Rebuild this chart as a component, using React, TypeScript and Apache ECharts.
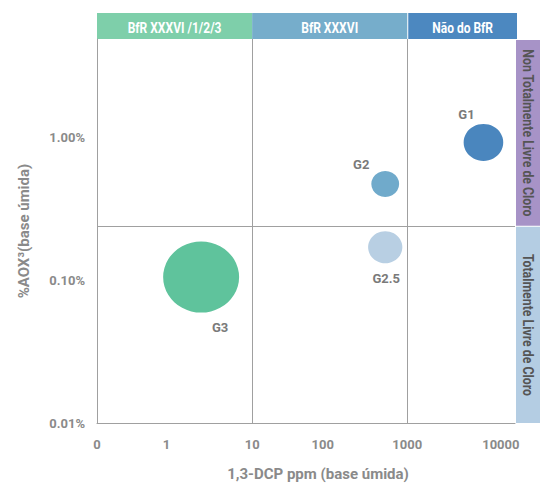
import React, { useEffect, useRef } from 'react';
import * as echarts from 'echarts';

// ---- data ----
const groupNames = ['G1', 'G2', 'G2.5', 'G3'];
const dcpPpm = [9600, 520, 520, 2.2];
const aoxPct = [0.92, 0.47, 0.17, 0.105];
const bubbleSize = [37, 26, 32, 71];
const bubbleColors = ['#4a86be', '#70aacb', '#b8cfe3', '#5fc39c'];
const labelOffsets = [[-17, -28], [-24, -20], [1, 31], [19, 50]];

const xTickValues = [0.1, 1, 10, 100, 1000, 10000];
const xTickLabels = ['0', '1', '10', '100', '1000', '10000'];
const xLabelShift = [0, -8, 0, -7, 0, 16];
const yTickValues = [0.01, 0.1, 1];
const yTickLabels = ['0.01%', '0.10%', '1.00%'];

const X_MIN = 0.1;
const X_MAX = 24500;
const Y_MIN = 0.01;
const Y_MAX = 4.87;

const xDividers = [10, 1000];
const yDividers = [0.24];

const headerLabels = ['BfR XXXVI /1/2/3', 'BfR XXXVI', 'Não do BfR'];
const headerBounds = [X_MIN, 10, 1000, X_MAX];
const headerColors = ['#7ecfaa', '#76adcb', '#4c88c0'];

const sideLabels = ['Non Totalmente Livre de Cloro', 'Totalmente Livre de Cloro'];
const sideBounds = [Y_MAX, 0.24, Y_MIN];
const sideColors = ['#a793c7', '#b4cde3'];

const FONT = "Roboto, 'Noto Sans', sans-serif";
const GREY = '#8a8a8a';

const GRID = { left: 97, right: 25, top: 39, bottom: 60 };

function findIdx(arr: number[], v: number) {
  for (let i = 0; i < arr.length; i++) {
    if (Math.abs(Math.log10(arr[i]) - Math.log10(v)) < 1e-6) return i;
  }
  return -1;
}

export default function App() {
  const ref = useRef<HTMLDivElement>(null);
  useEffect(() => {
    const chart = echarts.init(ref.current!, null, { renderer: 'svg' });
    const rich: any = {};
    xLabelShift.forEach((s, i) => {
      rich['s' + i] = {
        fontFamily: FONT,
        fontWeight: 'bold',
        fontSize: 13,
        color: GREY,
        padding: s < 0 ? [0, -2 * s, 0, 0] : [0, 0, 0, 2 * s],
      };
    });
    const option: any = {
      animation: false,
      grid: GRID,
      xAxis: {
        type: 'log',
        logBase: 10,
        min: X_MIN,
        max: X_MAX,
        name: '1,3-DCP ppm (base úmida)',
        nameLocation: 'middle',
        nameGap: 43,
        nameTextStyle: {
          fontFamily: FONT,
          fontWeight: 'bold',
          fontSize: 15,
          color: GREY,
          padding: [0, 0, 0, 24],
        },
        axisLine: { show: true, lineStyle: { color: '#a0a0a0', width: 1 } },
        axisTick: { show: false },
        splitLine: { show: false },
        axisLabel: {
          margin: 15,
          fontFamily: FONT,
          fontWeight: 'bold',
          fontSize: 13,
          color: GREY,
          showMaxLabel: false,
          formatter: (v: number) => {
            const i = findIdx(xTickValues, v);
            return i < 0 ? '' : '{s' + i + '|' + xTickLabels[i] + '}';
          },
          rich,
        },
      },
      yAxis: {
        type: 'log',
        logBase: 10,
        min: Y_MIN,
        max: Y_MAX,
        name: '%AOX³(base úmida)',
        nameLocation: 'middle',
        nameGap: 66,
        nameTextStyle: {
          fontFamily: FONT,
          fontWeight: 'bold',
          fontSize: 15,
          color: GREY,
        },
        axisLine: { show: true, lineStyle: { color: '#a0a0a0', width: 1 } },
        axisTick: { show: false },
        splitLine: { show: false },
        axisLabel: {
          margin: 12,
          fontFamily: FONT,
          fontWeight: 'bold',
          fontSize: 13,
          color: GREY,
          showMaxLabel: false,
          formatter: (v: number) => {
            const i = findIdx(yTickValues, v);
            return i < 0 ? '' : yTickLabels[i];
          },
        },
      },
      series: [
        {
          type: 'scatter',
          silent: true,
          z: 1,
          data: [],
          markLine: {
            silent: true,
            symbol: 'none',
            label: { show: false },
            lineStyle: { color: '#a0a0a0', width: 1, type: 'solid' },
            data: [
              ...xDividers.map((x) => ({ xAxis: x })),
              ...yDividers.map((y) => ({ yAxis: y })),
            ],
          },
        },
        {
          type: 'scatter',
          z: 3,
          data: groupNames.map((n, i) => ({
            name: n,
            value: [dcpPpm[i], aoxPct[i], bubbleSize[i]],
            itemStyle: { color: bubbleColors[i], opacity: 1 },
            label: {
              show: true,
              position: 'inside',
              offset: labelOffsets[i],
              formatter: n,
              fontFamily: FONT,
              fontWeight: 'bold',
              fontSize: 13,
              color: '#7a7a7a',
            },
          })),
          symbolSize: (val: number[]) => [val[2] * 1.07, val[2]],
        },
      ],
    };
    chart.setOption(option);

    const px = (x: number, y: number) => chart.convertToPixel({ gridIndex: 0 }, [x, y]) as number[];
    const gridRight = 540 - GRID.right;
    const graphics: any[] = [];
    for (let i = 0; i < headerLabels.length; i++) {
      const x0 = px(headerBounds[i], Y_MAX)[0] + (i === 2 ? 1 : 0);
      const x1 = i === headerLabels.length - 1 ? gridRight + 2 : px(headerBounds[i + 1], Y_MAX)[0];
      graphics.push({
        type: 'rect',
        shape: { x: x0, y: GRID.top - 26, width: x1 - x0, height: 26 },
        style: { fill: headerColors[i] },
      });
      graphics.push({
        type: 'text',
        x: (x0 + x1) / 2,
        y: GRID.top - 12,
        scaleX: 0.8,
        style: {
          text: headerLabels[i],
          fill: '#ffffff',
          fontFamily: FONT,
          fontWeight: 'bold',
          fontSize: 15,
          align: 'center',
          verticalAlign: 'middle',
        },
      });
    }
    for (let i = 0; i < sideLabels.length; i++) {
      const y0 = px(X_MIN, sideBounds[i])[1] + 1;
      const y1 = px(X_MIN, sideBounds[i + 1])[1];
      const x0 = gridRight + 1;
      graphics.push({
        type: 'rect',
        shape: { x: x0, y: y0, width: 540 - x0, height: y1 - y0 },
        style: { fill: sideColors[i] },
      });
      graphics.push({
        type: 'text',
        x: x0 + (540 - x0) / 2,
        y: (y0 + y1) / 2,
        rotation: -Math.PI / 2,
        scaleX: 0.88,
        style: {
          text: sideLabels[i],
          fill: '#555555',
          fontFamily: FONT,
          fontWeight: 'bold',
          fontSize: 14,
          align: 'center',
          verticalAlign: 'middle',
        },
      });
    }
    chart.setOption({ graphic: graphics });
    return () => chart.dispose();
  }, []);
  return (
    <div
      ref={ref}
      style={{ position: 'absolute', left: 0, top: 0, width: 540, height: 486 }}
    />
  );
}
